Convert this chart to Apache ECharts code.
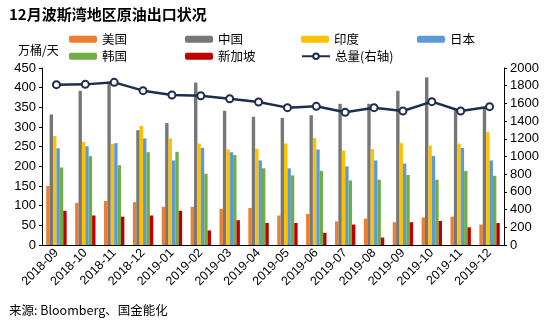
<!DOCTYPE html>
<html><head><meta charset="utf-8">
<script src="https://cdn.jsdelivr.net/npm/echarts@6/dist/echarts.min.js"></script>
<style>html,body{margin:0;padding:0;background:#fff}#c{width:550px;height:322px}</style>
</head><body><div id="c"></div>
<script>
const categories = ['2018-09','2018-10','2018-11','2018-12','2019-01','2019-02','2019-03','2019-04','2019-05','2019-06','2019-07','2019-08','2019-09','2019-10','2019-11','2019-12'];
const usa       = [150,107,112,109,97,97,92,94,75,79,60,67,58,70,72,52];
const china     = [332,392,412,292,310,413,341,326,323,330,359,359,392,426,343,349];
const india     = [277,262,257,303,271,258,243,245,258,272,240,244,259,253,258,287];
const japan     = [246,251,259,271,215,247,236,215,195,243,200,215,207,226,247,215];
const korea     = [197,226,203,236,237,181,229,195,177,188,164,166,178,166,188,176];
const singapore = [87,75,72,75,87,37,63,56,56,31,52,19,58,61,45,56];
const total     = [1812,1815,1838,1744,1695,1687,1653,1616,1552,1567,1499,1552,1514,1620,1514,1563];
const leftTicks = {min:0, max:450, interval:50};
const rightTicks = {min:0, max:2000, interval:200};

const font = '"Liberation Sans", Arial, sans-serif';
const cjk = '"Noto Sans CJK SC", sans-serif';
const chart = echarts.init(document.getElementById('c'));
function bar(name, data, color){
  return {name, type:'bar', data, barWidth:3.4, barGap:'0%', itemStyle:{color}, animation:false};
}
const legendItems = [
  ['美国',64,28],['中国',180,28],['印度',296,28],['日本',412,28],
  ['韩国',64,45],['新加坡',180,45],['总量(右轴)',296,45]
];
chart.setOption({
  animation:false,
  title:{text:'12月波斯湾地区原油出口状况', left:4, top:2, textStyle:{fontFamily:cjk, fontSize:15, fontWeight:'bold', color:'#000'}},
  graphic:[
    {type:'text', left:18, top:44, style:{text:'万桶/天', font:'12px "Noto Sans CJK SC"', fill:'#000'}},
    {type:'text', left:9, top:304, style:{text:'来源: Bloomberg、国金能化', font:'12.5px "Noto Sans CJK SC"', fill:'#000'}}
  ],
  legend: legendItems.map(([n,l,t])=>({data:[n], left:l, top:t, itemWidth:28, itemHeight:7, itemGap:4, textStyle:{fontFamily:cjk, fontSize:12.5, color:'#000'}})),
  grid:{left:42, right:46, top:68, bottom:77},
  xAxis:{type:'category', data:categories, axisLine:{lineStyle:{color:'#000'}}, axisTick:{lineStyle:{color:'#000'}, length:4},
    axisLabel:{rotate:45, fontFamily:font, fontSize:12.5, color:'#000', margin:6, interval:0}},
  yAxis:[
    {type:'value', ...leftTicks, axisLine:{show:true, lineStyle:{color:'#000'}}, axisTick:{show:true, length:3, lineStyle:{color:'#000'}}, splitLine:{show:false},
      axisLabel:{fontFamily:font, fontSize:13, color:'#000', margin:6}},
    {type:'value', ...rightTicks, position:'right', axisLine:{show:true, lineStyle:{color:'#000'}}, axisTick:{show:true, length:3, lineStyle:{color:'#000'}}, splitLine:{show:false},
      axisLabel:{fontFamily:font, fontSize:13, color:'#000', margin:6, formatter:v=>String(v)}}
  ],
  series:[
    bar('美国', usa, '#ED7D31'),
    bar('中国', china, '#777777'),
    bar('印度', india, '#FFC000'),
    bar('日本', japan, '#5B9BD5'),
    bar('韩国', korea, '#70AD47'),
    bar('新加坡', singapore, '#C00000'),
    {name:'总量(右轴)', type:'line', yAxisIndex:1, data:total, symbol:'circle', symbolSize:7,
      lineStyle:{color:'#1F2D4D', width:2.5}, itemStyle:{color:'#fff', borderColor:'#1F2D4D', borderWidth:2}, z:5}
  ]
});
</script></body></html>
